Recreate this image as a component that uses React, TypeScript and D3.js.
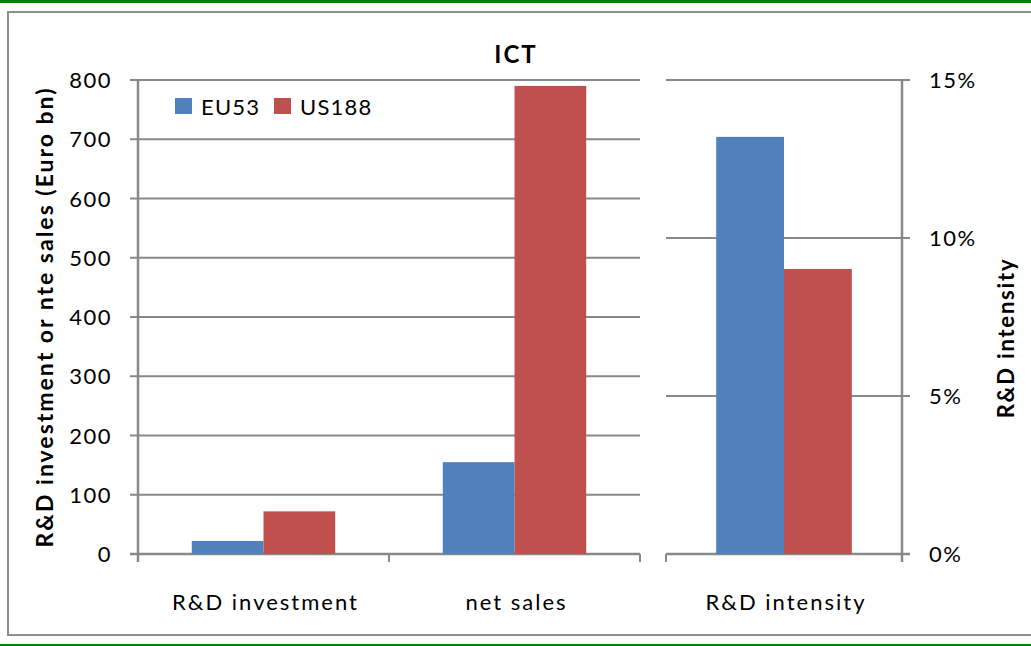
import * as d3 from "d3";

// data
const categories = ["R&D investment", "net sales"];
const series = ["EU53", "US188"];
const eu53Values = [22, 155];
const us188Values = [72, 790];
const intensityCategory = ["R&D intensity"];
const intensityValues = [0.132, 0.0902];
const leftTicks = [0, 100, 200, 300, 400, 500, 600, 700, 800];
const rightTicks = [0, 0.05, 0.1, 0.15];

const colors = ["#4f81bd", "#c0504d"];
const grid = "#898989";
const font = "Lato, 'Open Sans', sans-serif";

export default function App() {
  const W = 1031;
  const H = 646;

  const yLeft = d3.scaleLinear().domain([0, 800]).range([554, 80]);
  const yRight = d3.scaleLinear().domain([0, 0.15]).range([554, 80]);

  const xLeft = d3.scaleBand<string>().domain(categories).range([138, 640]);
  const xInner = d3.scaleBand<string>().domain(series).range([0, xLeft.bandwidth()]).paddingOuter(0.75).paddingInner(0);

  const xRight = d3.scaleBand<string>().domain(intensityCategory).range([666, 902]);
  const xInnerR = d3.scaleBand<string>().domain(series).range([0, xRight.bandwidth()]).paddingOuter(0.74).paddingInner(0);

  const leftData = [eu53Values, us188Values];

  return (
    <svg width={W} height={H} style={{ position: "absolute", left: 0, top: 0 }}>
      <rect x={0} y={0} width={W} height={H} fill="#fff" />
      <rect x={0} y={0} width={W} height={3} fill="#007f00" />
      <rect x={0} y={644} width={W} height={2} fill="#007f00" />
      <rect x={8} y={12} width={W + 10} height={623} fill="none" stroke="#8e8e8e" strokeWidth={2} />

      {/* title */}
      <text x={516} y={63} textAnchor="middle" fontFamily={font} fontWeight="bold" fontSize={24} letterSpacing={2}>ICT</text>

      {/* left gridlines */}
      {leftTicks.map((t) => (
        <g key={"l" + t}>
          <line x1={130} x2={640} y1={yLeft(t)} y2={yLeft(t)} stroke={grid} strokeWidth={t === 0 ? 2.5 : 2} />
          <text x={112} y={yLeft(t) + 8} textAnchor="end" fontFamily={font} fontSize={22} letterSpacing={1.5} fill="#000">{t}</text>
        </g>
      ))}
      <line x1={138} x2={138} y1={80} y2={562} stroke={grid} strokeWidth={2.5} />
      {[138, 389, 640].map((x) => (
        <line key={"bt" + x} x1={x} x2={x} y1={554} y2={562} stroke={grid} strokeWidth={2} />
      ))}

      {/* left bars */}
      {categories.map((c, i) =>
        series.map((s, j) => (
          <rect
            key={c + s}
            x={(xLeft(c) ?? 0) + (xInner(s) ?? 0)}
            y={yLeft(leftData[j][i])}
            width={xInner.bandwidth()}
            height={yLeft(0) - yLeft(leftData[j][i])}
            fill={colors[j]}
          />
        ))
      )}
      {categories.map((c) => (
        <text key={"cl" + c} x={(xLeft(c) ?? 0) + xLeft.bandwidth() / 2 + 2} y={610} textAnchor="middle" fontFamily={font} fontSize={22} letterSpacing={2}>{c}</text>
      ))}

      {/* right gridlines */}
      {rightTicks.map((t) => (
        <g key={"r" + t}>
          <line x1={666} x2={910} y1={yRight(t)} y2={yRight(t)} stroke={grid} strokeWidth={t === 0 ? 2.5 : 2} />
          <text x={929} y={yRight(t) + 8} textAnchor="start" fontFamily={font} fontSize={22} letterSpacing={1.5}>{d3.format(".0%")(t)}</text>
        </g>
      ))}
      <line x1={902} x2={902} y1={80} y2={562} stroke={grid} strokeWidth={2.5} />
      <line x1={666} x2={666} y1={554} y2={562} stroke={grid} strokeWidth={2} />

      {intensityCategory.map((c) =>
        series.map((s, j) => (
          <rect
            key={c + s}
            x={(xRight(c) ?? 0) + (xInnerR(s) ?? 0)}
            y={yRight(intensityValues[j])}
            width={xInnerR.bandwidth()}
            height={yRight(0) - yRight(intensityValues[j])}
            fill={colors[j]}
          />
        ))
      )}
      {intensityCategory.map((c) => (
        <text key={"cr" + c} x={(xRight(c) ?? 0) + xRight.bandwidth() / 2 + 2} y={610} textAnchor="middle" fontFamily={font} fontSize={22} letterSpacing={2}>{c}</text>
      ))}

      {/* axis titles */}
      <text transform="translate(53,317) rotate(-90)" textAnchor="middle" fontFamily={font} fontWeight="bold" fontSize={23} letterSpacing={2}>R&amp;D investment or nte sales (Euro bn)</text>
      <text transform="translate(1014,338) rotate(-90)" textAnchor="middle" fontFamily={font} fontWeight="bold" fontSize={22} letterSpacing={1.8}>R&amp;D intensity</text>

      {/* legend */}
      {series.map((s, j) => (
        <g key={"lg" + s} transform={`translate(${175 + j * 99},98)`}>
          <rect x={0} y={0} width={17} height={16} fill={colors[j]} />
          <text x={26} y={17} fontFamily={font} fontSize={22} letterSpacing={1.2}>{s}</text>
        </g>
      ))}
    </svg>
  );
}
